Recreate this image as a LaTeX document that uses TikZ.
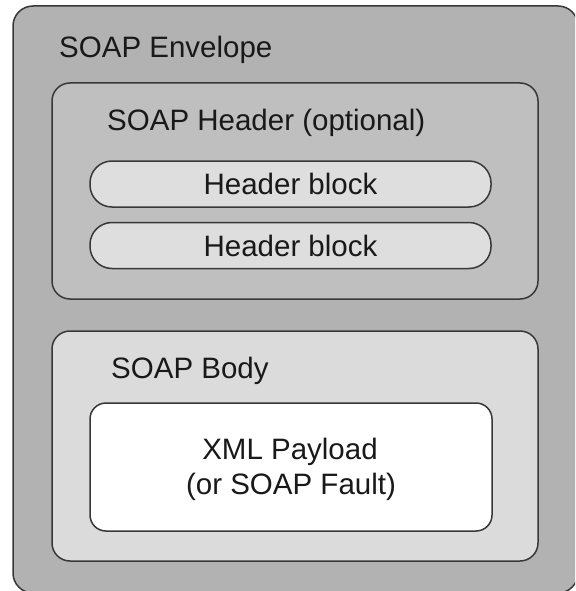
\documentclass[tikz,border=0pt]{standalone}
\usepackage{fontspec}
\setmainfont{Liberation Sans}
\begin{document}
\begin{tikzpicture}[x=1pt,y=-1pt,
  box/.style={draw=black!78, line width=1.5pt, inner sep=0pt, outer sep=0pt},
  lbl/.style={inner sep=0pt, text=black!90, font=\fontsize{29.5}{35}\selectfont},
  envbox/.style={box, fill=black!30, rounded corners=20pt, minimum width=565pt, minimum height=587pt},
  partbox/.style={box, rounded corners=18pt, minimum width=486pt},
  blockbox/.style={box, fill=black!13, rounded corners=22pt, minimum width=401pt, minimum height=46pt, lbl}
]
\useasboundingbox (0,0) rectangle (575,591);
\clip (0,0) rectangle (575,591);
\fill[white] (0,0) rectangle (575,591);

% envelope
\node[envbox] (env) at (295.5,299.5) {};
\node[lbl, anchor=base west] (envlbl) at (59,58) {SOAP Envelope};

% header part
\node[partbox, fill=black!25, minimum height=216pt] (hdr) at (295,191) {};
\node[lbl, anchor=base west] (hdrlbl) at (107,131) {SOAP Header (optional)};
\node[blockbox] (blk1) at (290.5,184) {Header block};
\node[blockbox] (blk2) at (290.5,245.5) {Header block};

% body part
\node[partbox, fill=black!14, minimum height=230pt] (body) at (295,446) {};
\node[lbl, anchor=base west] (bodylbl) at (111,378) {SOAP Body};
\node[box, fill=white, rounded corners=16pt, minimum width=402pt, minimum height=128pt] (pay) at (291,467) {};
\node[lbl, anchor=base] (pay1) at (290,459) {XML Payload};
\node[lbl, anchor=base] (pay2) at (291,494) {(or SOAP Fault)};
\end{tikzpicture}
\end{document}
